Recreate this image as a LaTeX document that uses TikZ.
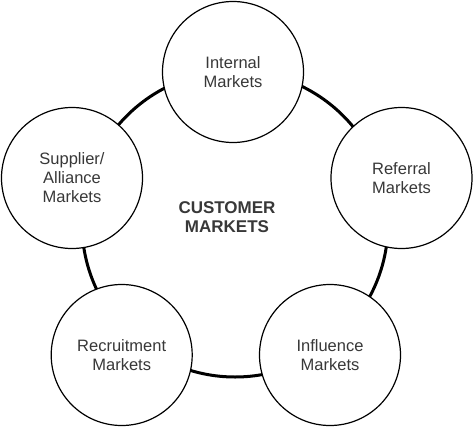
\documentclass[tikz,border=0pt]{standalone}
\usepackage{fontspec}
\setmainfont{Liberation Sans}
\begin{document}
\begin{tikzpicture}[x=1pt,y=-1pt,
  market/.style={circle,draw=black,line width=1.2pt,fill=white,minimum size=141pt,inner sep=0pt,
    align=center,font=\fontsize{16.5}{19}\selectfont,text=black!78},
  hub/.style={align=center,font=\fontsize{17}{19}\selectfont\bfseries,text=black!78}]
\useasboundingbox (0,0) rectangle (474,426);
\node[circle,draw=black,line width=3pt,minimum size=306pt,inner sep=0pt] (ring) at (235,224) {};
\node[hub] (center) at (227,217) {CUSTOMER\\MARKETS};
\node[market] (internal) at (233,72) {Internal\\Markets};
\node[market] (referral) at (401.5,178) {Referral\\Markets};
\node[market] (influence) at (330,355) {Influence\\Markets};
\node[market] (recruit) at (121.7,355) {Recruitment\\Markets};
\node[market] (supplier) at (72,178) {Supplier/\\Alliance\\Markets};
\end{tikzpicture}
\end{document}
